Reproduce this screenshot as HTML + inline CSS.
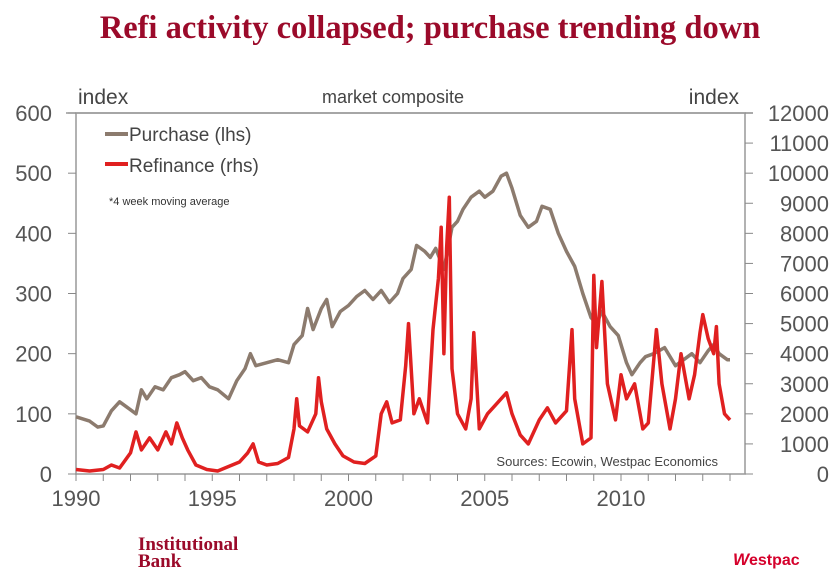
<!DOCTYPE html>
<html><head><meta charset="utf-8"><style>
body{margin:0;background:#fff;width:834px;height:577px;overflow:hidden}
svg{display:block}
</style></head><body>
<svg id="c" width="834" height="577" xmlns="http://www.w3.org/2000/svg">
<text x="430" y="38" text-anchor="middle" font-family="Liberation Serif, serif" font-weight="bold" font-size="32.5" fill="#9b0a2a">Refi activity collapsed; purchase trending down</text>
<text x="78" y="104" font-family="Liberation Sans, sans-serif" font-size="21" fill="#444">index</text>
<text x="393" y="103" text-anchor="middle" font-family="Liberation Sans, sans-serif" font-size="18" fill="#444">market composite</text>
<text x="739" y="104" text-anchor="end" font-family="Liberation Sans, sans-serif" font-size="21" fill="#444">index</text>
<g id="axes"></g>
<g id="series"></g>
<g>
<line x1="105" y1="134" x2="128" y2="134" stroke="#8c7b6e" stroke-width="4"/>
<text x="129" y="141" font-family="Liberation Sans, sans-serif" font-size="19" fill="#444">Purchase (lhs)</text>
<line x1="105" y1="164" x2="128" y2="164" stroke="#e02020" stroke-width="4"/>
<text x="129" y="172" font-family="Liberation Sans, sans-serif" font-size="19" fill="#444">Refinance (rhs)</text>
</g>
<text x="109" y="205" font-family="Liberation Sans, sans-serif" font-size="11" fill="#333">*4 week moving average</text>
<text x="718" y="466" text-anchor="end" font-family="Liberation Sans, sans-serif" font-size="13" fill="#444">Sources: Ecowin, Westpac Economics</text>
<text x="138" y="550" font-family="Liberation Serif, serif" font-weight="bold" font-size="19" fill="#9b0a2a">Institutional</text>
<text x="138" y="567" font-family="Liberation Serif, serif" font-weight="bold" font-size="19" fill="#9b0a2a">Bank</text>
<g>
<text x="733" y="565" font-family="Liberation Sans, sans-serif" font-weight="bold" font-size="17" fill="#d5002b" font-style="italic">W</text>
<text x="749" y="565" font-family="Liberation Sans, sans-serif" font-weight="bold" font-size="16" fill="#d5002b">estpac</text>
</g>
</svg>
<script>
const purchaseYears=[1990.0,1990.5,1990.8,1991.0,1991.3,1991.6,1991.9,1992.2,1992.4,1992.6,1992.9,1993.2,1993.5,1993.8,1994.0,1994.3,1994.6,1994.9,1995.2,1995.6,1995.9,1996.2,1996.4,1996.6,1997.0,1997.4,1997.8,1998.0,1998.3,1998.5,1998.7,1999.0,1999.2,1999.4,1999.7,2000.0,2000.3,2000.6,2000.9,2001.2,2001.5,2001.8,2002.0,2002.3,2002.5,2002.8,2003.0,2003.2,2003.5,2003.8,2004.0,2004.2,2004.5,2004.8,2005.0,2005.3,2005.6,2005.8,2006.0,2006.3,2006.6,2006.9,2007.1,2007.4,2007.7,2008.0,2008.3,2008.6,2008.9,2009.1,2009.3,2009.6,2009.9,2010.2,2010.4,2010.7,2010.9,2011.2,2011.6,2012.0,2012.3,2012.6,2012.9,2013.2,2013.4,2013.6,2013.9,2014.0];
const purchaseValues=[95,88,78,80,105,120,110,100,140,125,145,140,160,165,170,155,160,145,140,125,155,175,200,180,185,190,185,215,230,275,240,275,290,245,270,280,295,305,290,305,285,300,325,340,380,370,360,375,340,410,420,440,460,470,460,470,495,500,475,430,410,420,445,440,400,370,345,300,260,250,270,245,230,185,165,185,195,200,210,180,190,200,185,205,215,200,190,190];
const refiYears=[1990.0,1990.5,1991.0,1991.3,1991.6,1992.0,1992.2,1992.4,1992.7,1993.0,1993.3,1993.5,1993.7,1993.9,1994.1,1994.4,1994.8,1995.2,1995.6,1996.0,1996.3,1996.5,1996.7,1997.0,1997.4,1997.8,1998.0,1998.1,1998.2,1998.5,1998.8,1998.9,1999.0,1999.2,1999.5,1999.8,2000.2,2000.6,2001.0,2001.2,2001.4,2001.6,2001.9,2002.1,2002.2,2002.4,2002.6,2002.9,2003.1,2003.3,2003.4,2003.5,2003.6,2003.7,2003.8,2004.0,2004.3,2004.5,2004.6,2004.8,2005.1,2005.4,2005.8,2006.0,2006.3,2006.6,2007.0,2007.3,2007.6,2008.0,2008.2,2008.3,2008.6,2008.9,2009.0,2009.1,2009.3,2009.5,2009.8,2010.0,2010.2,2010.5,2010.8,2011.0,2011.3,2011.5,2011.8,2012.0,2012.2,2012.5,2012.7,2012.9,2013.0,2013.2,2013.4,2013.5,2013.6,2013.8,2014.0];
const refiValues=[150,100,150,300,200,700,1400,800,1200,800,1400,1000,1700,1200,800,300,150,100,250,400,700,1000,400,300,350,550,1500,2500,1600,1400,2000,3200,2400,1500,1000,600,400,350,600,2000,2400,1700,1800,3600,5000,2000,2500,1700,4800,6500,8200,4000,7500,9200,3500,2000,1500,2500,4700,1500,2000,2300,2700,2000,1300,1000,1800,2200,1700,2100,4800,2500,1000,1200,6600,4200,6400,3000,1800,3300,2500,3000,1500,1700,4800,3000,1500,2500,4000,2500,3300,4700,5300,4500,4000,4900,3000,2000,1800];
const leftTicks=[0,100,200,300,400,500,600];
const rightTicks=[0,1000,2000,3000,4000,5000,6000,7000,8000,9000,10000,11000,12000];
const xTickLabels=[1990,1995,2000,2005,2010];

const NS='http://www.w3.org/2000/svg';
const X0=76,X1=745,Y0=474,Y1=113;
const xs=y=>X0+(y-1990)*27.25;
const yl=v=>Y0-(v/600)*(Y0-Y1);
const yr=v=>Y0-(v/12000)*(Y0-Y1);
function mk(tag,attrs,parent){const e=document.createElementNS(NS,tag);for(const k in attrs)e.setAttribute(k,attrs[k]);parent.appendChild(e);return e;}
const ax=document.getElementById('axes');
let e;
e=mk('rect',{x:X0,y:Y1,width:X1-X0,height:Y0-Y1,fill:'none',stroke:'#999','stroke-width':1.5},ax);


e=mk('line',{x1:66,y1:Y1,x2:753,y2:Y1,stroke:'#999','stroke-width':1.5},ax);


leftTicks.forEach(v=>{
 const y=yl(v);
 mk('line',{x1:X0-8,y1:y,x2:X0,y2:y,stroke:'#888'},ax);
 e=mk('text',{x:52,y:y+8,'text-anchor':'end','font-family':'Liberation Sans, sans-serif','font-size':22,fill:'#555'},ax);
 e.textContent=v;
 
 
});
rightTicks.forEach(v=>{
 const y=yr(v);
 mk('line',{x1:X1,y1:y,x2:X1+8,y2:y,stroke:'#888'},ax);
 e=mk('text',{x:829,y:y+8,'text-anchor':'end','font-family':'Liberation Sans, sans-serif','font-size':22,fill:'#555'},ax);
 e.textContent=v;
 
 
});
for(let yr_=1990;yr_<=2014;yr_++){mk('line',{x1:xs(yr_),y1:Y0,x2:xs(yr_),y2:Y0+7,stroke:'#888'},ax);}
xTickLabels.forEach(v=>{
 e=mk('text',{x:xs(v),y:506,'text-anchor':'middle','font-family':'Liberation Sans, sans-serif','font-size':22,fill:'#555'},ax);
 e.textContent=v;
 
 
});
const sg=document.getElementById('series');
const pp=purchaseYears.map((t,i)=>xs(t).toFixed(1)+','+yl(purchaseValues[i]).toFixed(1)).join(' ');
e=mk('polyline',{points:pp,fill:'none',stroke:'#8c7b6e','stroke-width':3.5,'stroke-linejoin':'round'},sg);


const rp=refiYears.map((t,i)=>xs(t).toFixed(1)+','+yr(refiValues[i]).toFixed(1)).join(' ');
e=mk('polyline',{points:rp,fill:'none',stroke:'#e02020','stroke-width':3.5,'stroke-linejoin':'round'},sg);


</script>
</body></html>
